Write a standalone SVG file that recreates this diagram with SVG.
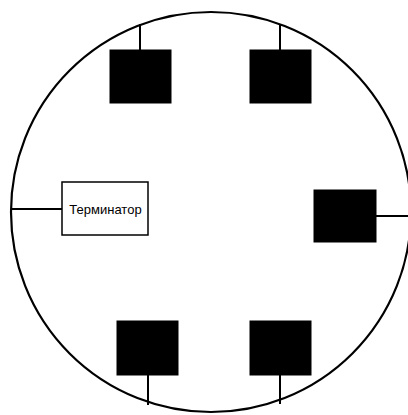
<svg xmlns="http://www.w3.org/2000/svg" width="408" height="415" viewBox="0 0 408 415">
<style>
.ring{fill:none;stroke:#000;stroke-width:2.2}
.ln{stroke:#000;stroke-width:2;fill:none}
.blk{fill:#000;stroke:#000;stroke-width:1}
.term{fill:#fff;stroke:#000;stroke-width:1.5}
.lbl{font-family:"Liberation Sans",Arial,sans-serif;font-size:13px;fill:#000}
</style>
<rect width="408" height="415" fill="#fff"/>
<g id="connectors">
<circle class="ring" cx="211" cy="212" r="200"/>
<line class="ln" x1="140" y1="24" x2="140" y2="50"/>
<line class="ln" x1="280" y1="24" x2="280" y2="50"/>
<line class="ln" x1="12" y1="209" x2="62" y2="209"/>
<line class="ln" x1="376" y1="216" x2="408" y2="216"/>
<line class="ln" x1="148" y1="375" x2="148" y2="405"/>
<line class="ln" x1="280" y1="375" x2="280" y2="404"/>
</g>
<g id="node1"><rect class="blk" x="110" y="50" width="61" height="53"/></g>
<g id="node2"><rect class="blk" x="250" y="50" width="61" height="53"/></g>
<g id="terminator"><rect class="term" x="62" y="182" width="86" height="53"/><text class="lbl" x="105.5" y="214" text-anchor="middle">Терминатор</text></g>
<g id="node3"><rect class="blk" x="314" y="190" width="62" height="52"/></g>
<g id="node4"><rect class="blk" x="117" y="321" width="61" height="54"/></g>
<g id="node5"><rect class="blk" x="250" y="321" width="61" height="54"/></g>
</svg>
